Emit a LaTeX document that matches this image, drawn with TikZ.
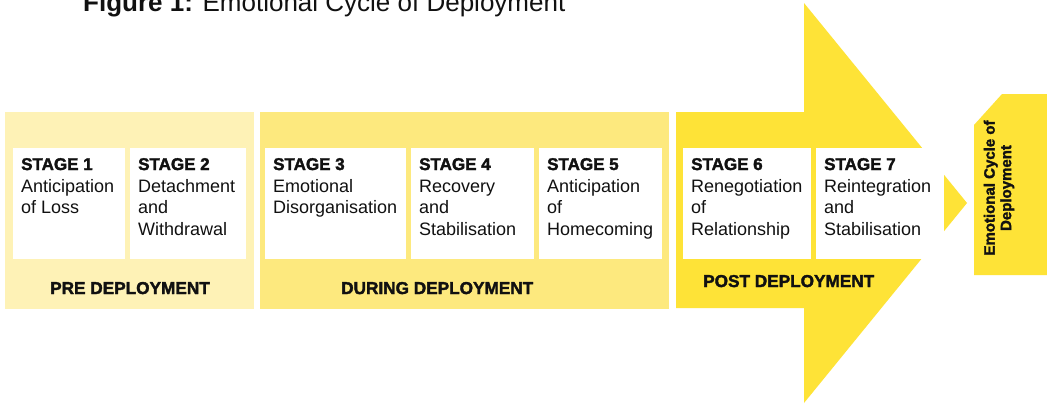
\documentclass[tikz,border=0pt]{standalone}
\usepackage{fontspec}
\setmainfont{Liberation Sans}
\newfontfamily\heavyfont{Liberation Sans Bold}[FakeBold=2]
\usetikzlibrary{calc}
\definecolor{prey}{HTML}{FEF2B6}
\definecolor{duringy}{HTML}{FDE97E}
\definecolor{posty}{HTML}{FEE337}
\definecolor{inktext}{HTML}{111111}

\tikzset{
  panel/.style={draw=none, inner sep=0pt, outer sep=0pt, anchor=north west, minimum height=197pt},
  stagebox/.style={fill=white, draw=none, inner sep=0pt, outer sep=0pt, anchor=north west, minimum height=111pt},
  head/.style={font=\fontsize{17}{20}\heavyfont, anchor=base west, inner sep=0pt, text=inktext},
  body/.style={font=\fontsize{18}{21}\selectfont, anchor=base west, inner sep=0pt, text=inktext},
  phase/.style={font=\fontsize{17.2}{20}\heavyfont, anchor=base west, inner sep=0pt, text=inktext},
}

\newcommand\stg[7]{%
  \node[stagebox, minimum width=#3pt] (#1) at (#2,148) {};
  \node[head] (#1h) at ($(#1.north west)+(8,22)$) {STAGE #4};
  \node[body] (#1a) at ($(#1.north west)+(8,44)$) {#5};
  \node[body] (#1b) at ($(#1.north west)+(8,65.5)$) {#6};
  \node[body] (#1c) at ($(#1.north west)+(8,87)$) {#7};
}

\begin{document}
\begin{tikzpicture}[x=1pt, y=-1pt]
  \useasboundingbox (0,0) rectangle (1047,405);
  \fill[white] (0,0) rectangle (1047,405);

  % title (cut at the top edge, as in the reference)
  \node[anchor=base west, inner sep=0pt, font=\fontsize{26}{30}\selectfont, text=inktext] (title) at (83,11)
    {\textbf{Figure 1:} Emotional Cycle of Deployment};

  % phase panels
  \node[panel, fill=prey, minimum width=249pt] (pre) at (5,112) {};
  \node[panel, fill=duringy, minimum width=409pt] (during) at (260,112) {};
  \fill[posty] (676,112) -- (804,112) -- (804,3) -- (967,203) -- (804,403)
    -- (804,308) -- (676,308) -- cycle;

  % stages
  \stg{s1}{13}{112}{1}{Anticipation}{of Loss}{}
  \stg{s2}{130}{116}{2}{Detachment}{and}{Withdrawal}
  \stg{s3}{265}{141}{3}{Emotional}{Disorganisation}{}
  \stg{s4}{411}{123}{4}{Recovery}{and}{Stabilisation}
  \stg{s5}{539}{123}{5}{Anticipation}{of}{Homecoming}
  \stg{s6}{683}{128}{6}{Renegotiation}{of}{Relationship}
  \stg{s7}{816}{128}{7}{Reintegration}{and}{Stabilisation}

  % phase labels
  \node[phase] (prelbl) at (50,294) {PRE DEPLOYMENT};
  \node[phase] (durlbl) at (341,294) {DURING DEPLOYMENT};
  \node[phase] (postlbl) at (703,287) {POST DEPLOYMENT};

  % result box
  \fill[posty] (974,125) -- (1002,94) -- (1047,94) -- (1047,275) -- (974,275) -- cycle;
  \node[rotate=90, align=center, inner sep=0pt, text=inktext,
        font=\fontsize{15}{16.5}\heavyfont] (result) at (999,188)
    {Emotional Cycle of\\Deployment};
\end{tikzpicture}
\end{document}
